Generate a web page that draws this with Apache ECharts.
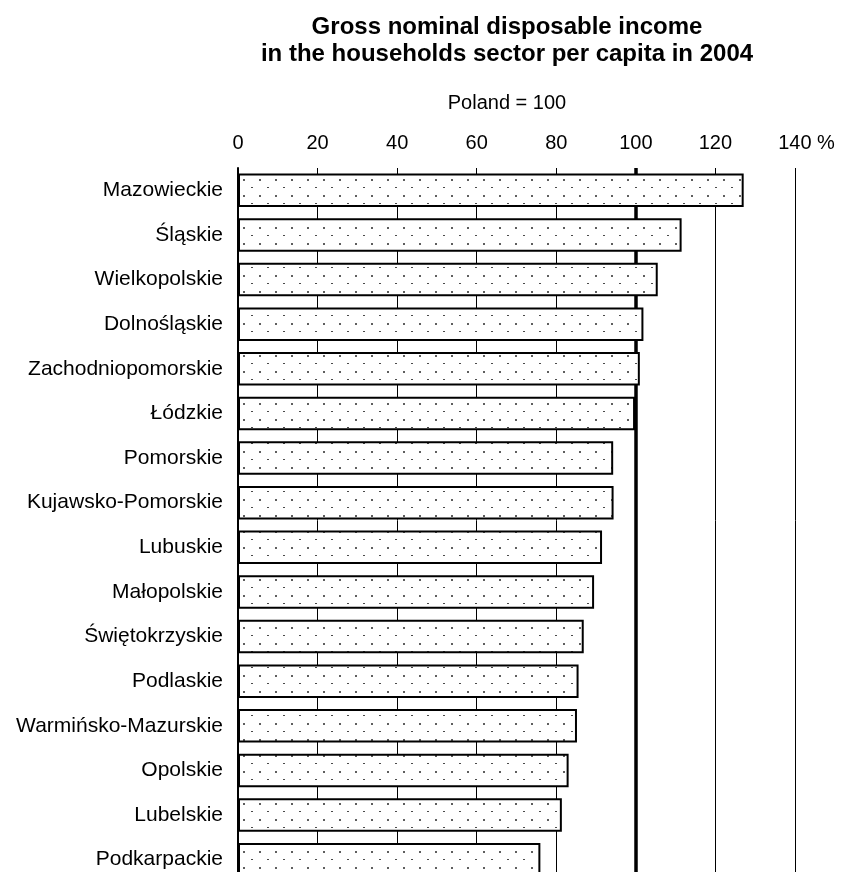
<!DOCTYPE html>
<html>
<head>
<meta charset="utf-8">
<script src="https://cdn.jsdelivr.net/npm/echarts@6/dist/echarts.min.js"></script>
<style>
html,body{margin:0;padding:0;background:#fff;}
#chart{width:843px;height:872px;}
</style>
</head>
<body>
<div id="chart"></div>
<script>
const titleLines = ['Gross nominal disposable income', 'in the households sector per capita in 2004'];
const subtitle = 'Poland = 100';
const categories = ['Mazowieckie','Śląskie','Wielkopolskie','Dolnośląskie','Zachodniopomorskie','Łódzkie','Pomorskie','Kujawsko-Pomorskie','Lubuskie','Małopolskie','Świętokrzyskie','Podlaskie','Warmińsko-Mazurskie','Opolskie','Lubelskie','Podkarpackie'];
const values = [127.1, 111.5, 105.5, 101.9, 101.0, 99.8, 94.3, 94.4, 91.5, 89.5, 86.9, 85.6, 85.2, 83.1, 81.4, 76.0];
const axisMin = 0, axisMax = 140, axisStep = 20;
const referenceValue = 100;

const FONT = '"Liberation Sans", Arial, sans-serif';

// dotted fill pattern
const pat = document.createElement('canvas');
pat.width = 16; pat.height = 16;
const pc = pat.getContext('2d');
pc.fillStyle = '#ffffff'; pc.fillRect(0,0,16,16);
pc.fillStyle = '#5e5e5e'; pc.fillRect(3,3,2,2);
pc.fillStyle = '#4a4a4a'; pc.fillRect(11,11,2,1);

const chart = echarts.init(document.getElementById('chart'), null, {renderer:'canvas'});
chart.setOption({
  animation: false,
  backgroundColor: '#fff',
  textStyle: {fontFamily: FONT, color: '#000'},
  graphic: [
    {type:'text', x:507, y:27, style:{text:titleLines[0], font:'bold 24px ' + FONT, fill:'#000', textAlign:'center', textVerticalAlign:'middle'}},
    {type:'text', x:507, y:54.5, style:{text:titleLines[1], font:'bold 24px ' + FONT, fill:'#000', textAlign:'center', textVerticalAlign:'middle'}},
    {type:'text', x:507, y:103, style:{text:subtitle, font:'20px ' + FONT, fill:'#000', textAlign:'center', textVerticalAlign:'middle'}}
  ],
  grid: {left:238, right:48, top:168, height:714, containLabel:false, outerBoundsMode:'none'},
  xAxis: {
    type:'value', position:'top', min:axisMin, max:axisMax, interval:axisStep,
    axisLine:{show:false}, axisTick:{show:false},
    splitLine:{show:true, lineStyle:{color:'#000', width:1}},
    axisLabel:{
      fontSize:20, color:'#000', margin:15, fontFamily:FONT,
      formatter: v => v === axisMax ? '{pct|' + v + ' %}' : String(v),
      rich:{pct:{fontSize:20, color:'#000', fontFamily:FONT, padding:[0,0,0,23]}}
    }
  },
  yAxis: {
    type:'category', inverse:true, data:categories,
    axisLine:{show:true, lineStyle:{color:'#000', width:2}},
    axisTick:{show:false},
    splitLine:{show:false},
    axisLabel:{fontSize:21, color:'#000', margin:15, fontFamily:FONT}
  },
  series: [
    {
      type:'bar', data:values, z:3, barWidth:33.5,
      itemStyle:{color:{image:pat, repeat:'repeat'}, borderColor:'#000', borderWidth:2},
      markLine:{silent:true, z:1, symbol:'none', label:{show:false},
        lineStyle:{color:'#000', width:3.5, type:'solid'},
        data:[{xAxis:referenceValue}]}
    }
  ]
});
</script>
</body>
</html>
